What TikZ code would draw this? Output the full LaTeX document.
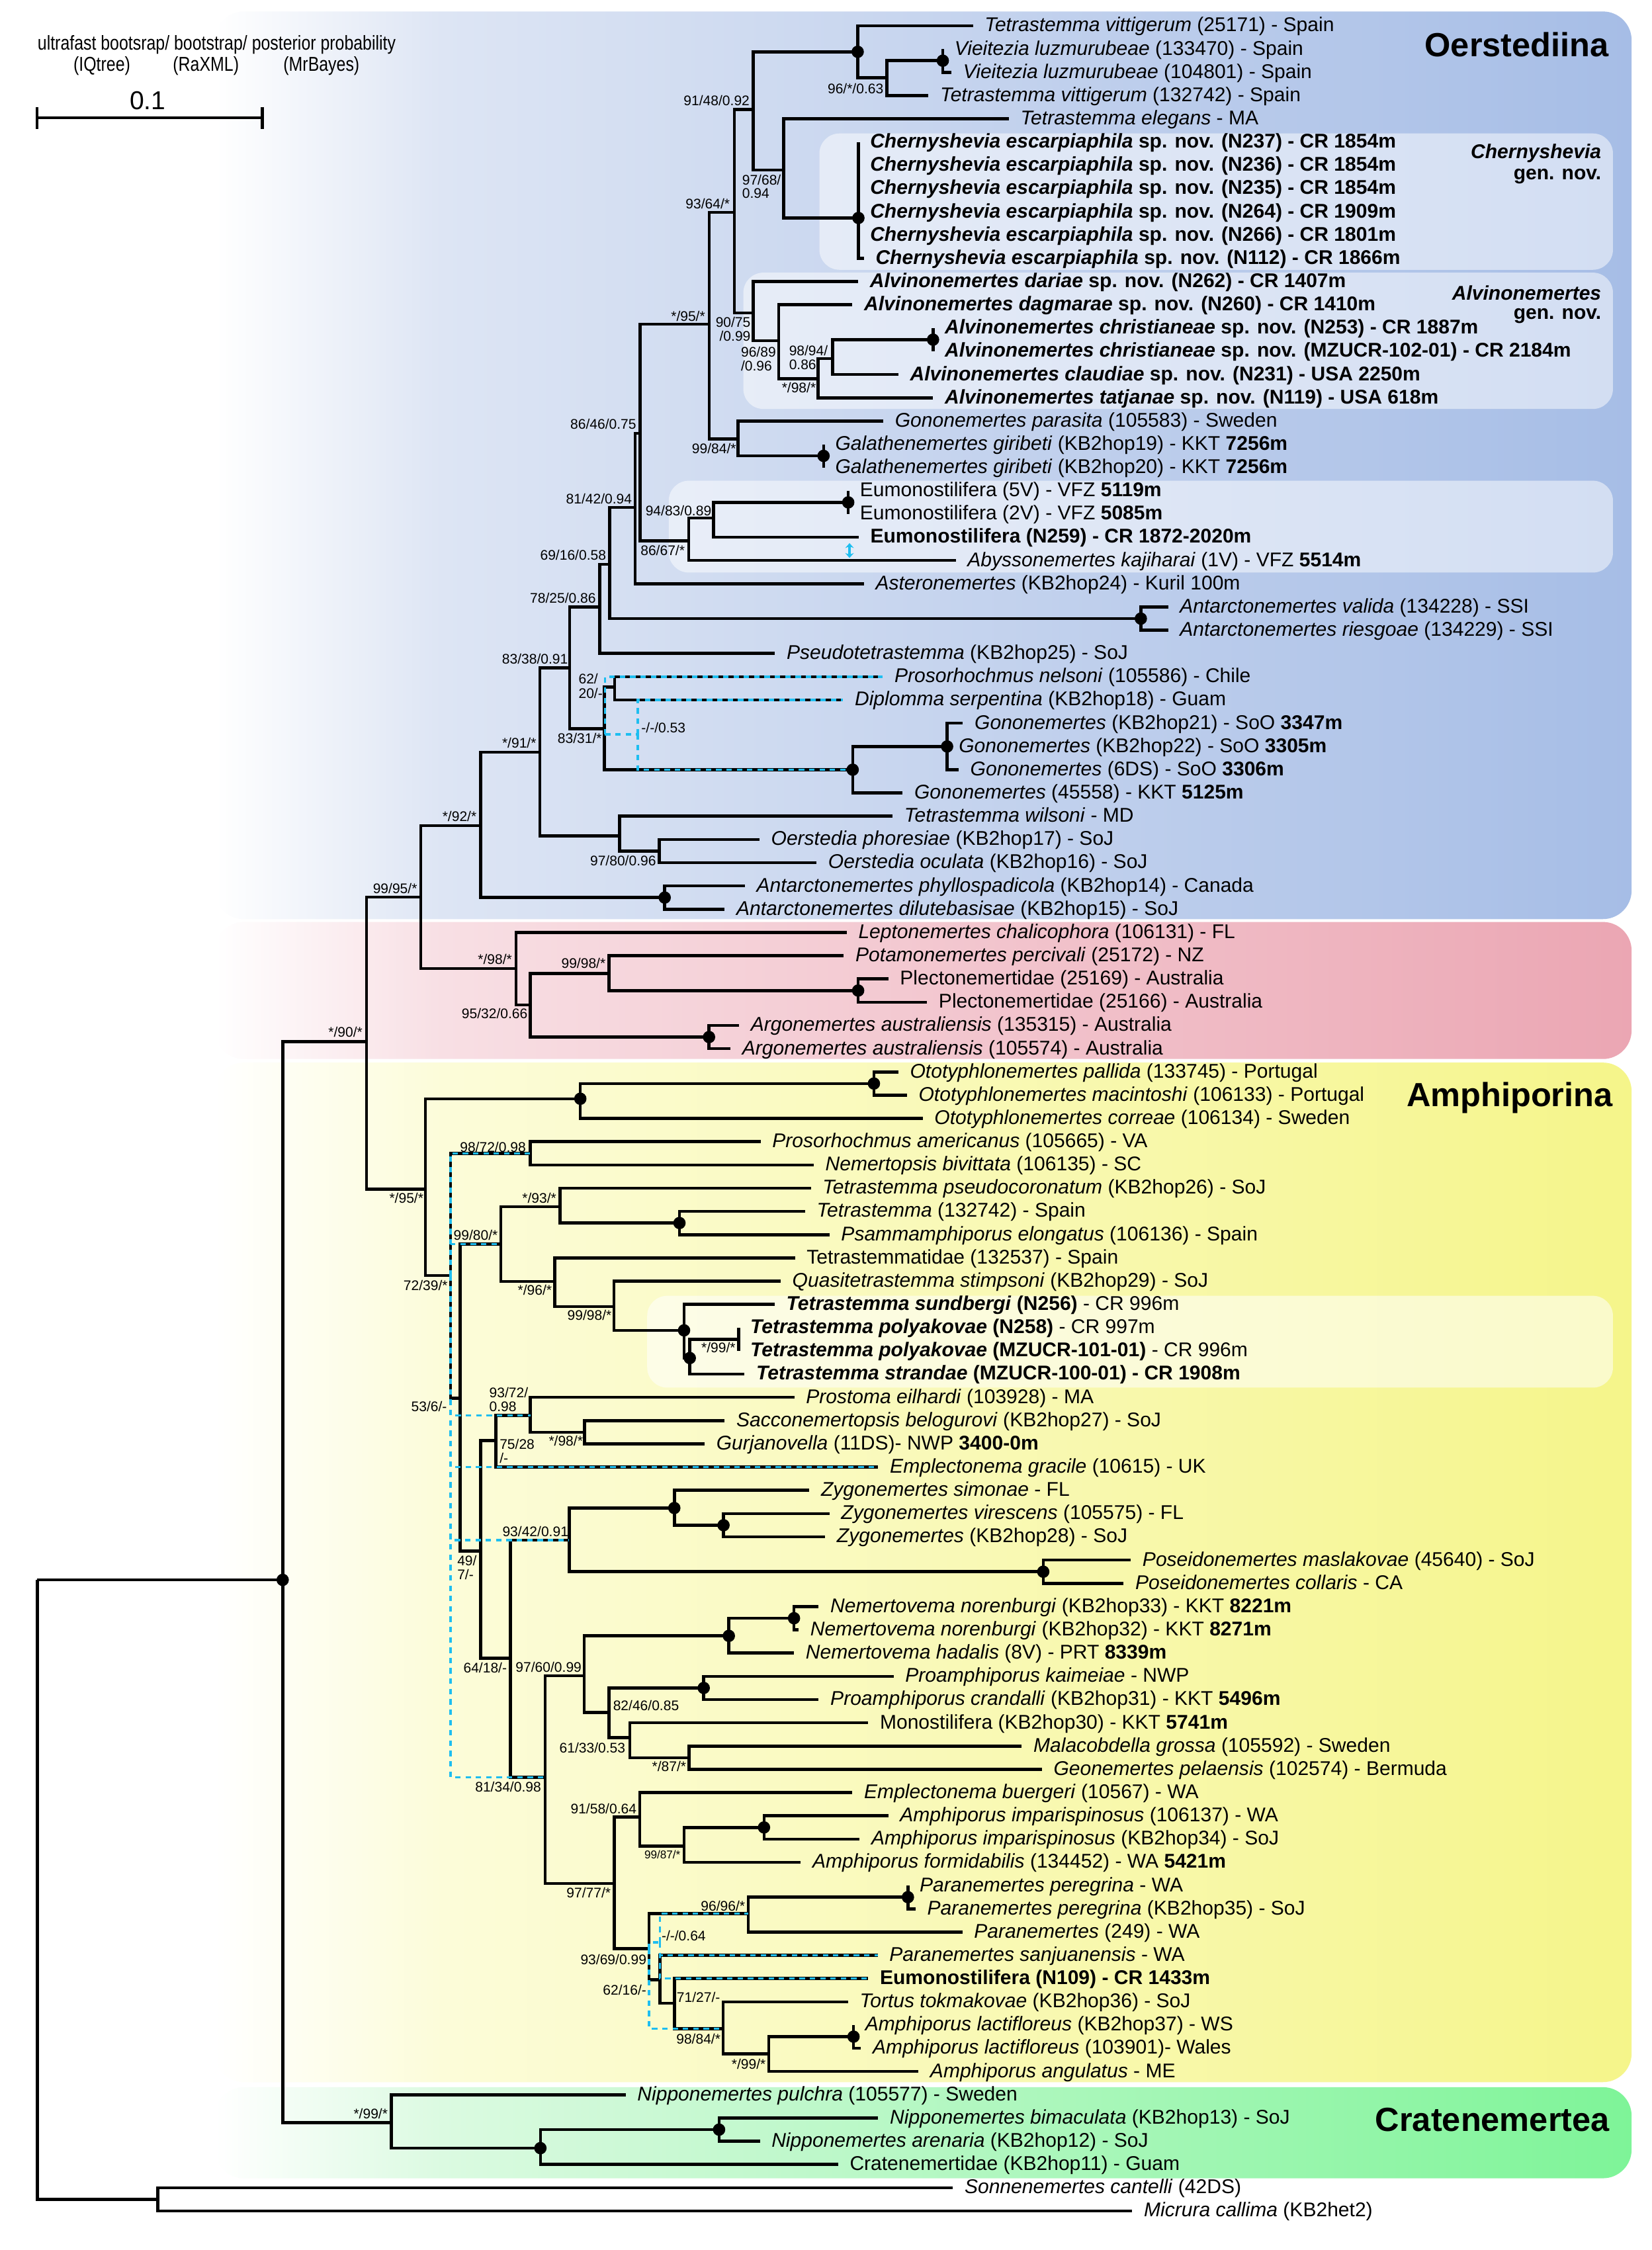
\documentclass[tikz,border=0pt]{standalone}
\usepackage{fontspec}
\setmainfont{Liberation Sans}
\usepackage{graphicx}
\usetikzlibrary{arrows.meta}
\definecolor{oerR}{HTML}{A6BDE6}
\definecolor{oerM}{HTML}{DDE5F4}
\definecolor{pnkR}{HTML}{EBA6B3}
\definecolor{pnkM}{HTML}{F8DFE4}
\definecolor{yelR}{HTML}{F5F58A}
\definecolor{yelM}{HTML}{FCFCD9}
\definecolor{grnR}{HTML}{7EF498}
\definecolor{grnM}{HTML}{DBFAE1}
\definecolor{cyanx}{HTML}{1EBEF0}
\pgfdeclarehorizontalshading{oersh}{100bp}{color(0bp)=(white); color(25bp)=(white); color(33bp)=(oerM); color(75bp)=(oerR); color(100bp)=(oerR)}
\pgfdeclarehorizontalshading{pnksh}{100bp}{color(0bp)=(white); color(25bp)=(white); color(33bp)=(pnkM); color(75bp)=(pnkR); color(100bp)=(pnkR)}
\pgfdeclarehorizontalshading{yelsh}{100bp}{color(0bp)=(white); color(25bp)=(white); color(33bp)=(yelM); color(75bp)=(yelR); color(100bp)=(yelR)}
\pgfdeclarehorizontalshading{grnsh}{100bp}{color(0bp)=(white); color(25bp)=(white); color(33bp)=(grnM); color(75bp)=(grnR); color(100bp)=(grnR)}
\newcommand\leaffont{\fontsize{13.85}{16}\selectfont}
\newcommand\labfont{\fontsize{9.7}{10}\selectfont}
\newcommand\smlabfont{\fontsize{7.9}{9}\selectfont}
\newcommand\grpfont{\fontsize{23.3}{28}\selectfont\bfseries}
\newcommand\lv[4]{\coordinate (t#1) at (#2,#3);\node[leaf] (l#1) at (t#1) {#4};}
\begin{document}
\begin{tikzpicture}[x=1pt,y=-1pt,
  br/.style={line width=2.1pt, draw=black},
  cy/.style={line width=1.6pt, draw=cyanx, dash pattern=on 3.8pt off 3.4pt},
  leaf/.style={anchor=west, inner sep=0pt, xshift=8pt, yshift=-0.6pt, font=\leaffont, text height=9.9pt, text depth=2.9pt},
  lab/.style={inner sep=0pt, font=\labfont},
  grp/.style={inner sep=0pt, font=\grpfont},
  sub/.style={inner sep=0pt, font=\leaffont, anchor=east}]
\fill[white] (0,0) rectangle (1151,1568);
\useasboundingbox (0,0) rectangle (1151,1568);
% ---------- bands
\shade[shading=oersh, rounded corners=20pt] (150,8) rectangle (1137,640.5);
\shade[shading=pnksh, rounded corners=20pt] (150,642.5) rectangle (1137,738);
\shade[shading=yelsh, rounded corners=20pt] (150,740.5) rectangle (1137,1451);
\shade[shading=grnsh, rounded corners=20pt] (150,1454.5) rectangle (1137,1518);
\fill[white, fill opacity=0.5, rounded corners=14pt] (571,93) rectangle (1124,188);
\fill[white, fill opacity=0.5, rounded corners=14pt] (518,190) rectangle (1124,285);
\fill[white, fill opacity=0.5, rounded corners=14pt] (466,335) rectangle (1124,399);
\fill[white, fill opacity=0.55, rounded corners=14pt] (451,903) rectangle (1124,967);
% ---------- legend
\node[inner sep=0pt] (lg1) at (151,31) {\scalebox{0.82}[1]{\fontsize{14}{16}\selectfont ultrafast bootsrap/ bootstrap/ posterior probability}};
\node[inner sep=0pt] (lg2) at (71,46) {\scalebox{0.82}[1]{\fontsize{14}{16}\selectfont (IQtree)}};
\node[inner sep=0pt] (lg3) at (143.5,46) {\scalebox{0.82}[1]{\fontsize{14}{16}\selectfont (RaXML)}};
\node[inner sep=0pt] (lg4) at (224,46) {\scalebox{0.82}[1]{\fontsize{14}{16}\selectfont (MrBayes)}};
\coordinate (sb1) at (25.8,82); \coordinate (sb2) at (182.7,82);
\coordinate (sb1a) at (25.8,74.5); \coordinate (sb1b) at (25.8,89.9);
\coordinate (sb2a) at (182.7,74.5); \coordinate (sb2b) at (182.7,89.9);
\draw[line width=2.1pt] (sb1) -- (sb2);
\draw[line width=2.1pt] (sb1a) -- (sb1b);
\draw[line width=2.1pt] (sb2a) -- (sb2b);
\node[inner sep=0pt, font=\fontsize{18}{20}\selectfont] (sbl) at (103,70) {0.1};
% ---------- group labels
\node[grp] (g1) at (1057,31) {Oerstediina};
\node[grp] (g2) at (1052,765) {Amphiporina};
\node[grp] (g3) at (1040,1477) {Cratenemertea};
\node[sub] (g4) at (1116,107) {\textbf{\textit{Chernyshevia}}};
\node[sub] (g5) at (1116,123) {\textbf{gen. nov.}};
\node[sub] (g6) at (1116,204) {\textbf{\textit{Alvinonemertes}}};
\node[sub] (g7) at (1116,220) {\textbf{gen. nov.}};
% ---------- internal nodes
\coordinate (R) at (26,1101);
\coordinate (OG) at (110,1532.7);
\coordinate (IN) at (197,1101);
\coordinate (n90) at (255.4,725.9);
\coordinate (n9995) at (293.3,625.2);
\coordinate (n92) at (335,575.4);
\coordinate (nAP) at (463.2,625.5);
\coordinate (n91) at (376.3,524.2);
\coordinate (nWil) at (431.7,582.5);
\coordinate (n9780) at (459.4,593.1);
\coordinate (n8338) at (397,465.3);
\coordinate (n8331) at (421.2,507.8);
\coordinate (n6220) at (428.3,478.7);
\coordinate (nGo) at (594.2,536.4);
\coordinate (nGi) at (660,520.2);
\coordinate (n7825) at (417.8,423);
\coordinate (n6916) at (424.8,393.3);
\coordinate (nAV) at (795,431.1);
\coordinate (n8142) at (442.5,353.7);
\coordinate (n8646) at (446,302);
\coordinate (n8667) at (480,377);
\coordinate (n9483) at (497.1,361);
\coordinate (nEu) at (591.1,350.1);
\coordinate (n95) at (494.2,226);
\coordinate (n9984) at (514.4,305.8);
\coordinate (nGa) at (573.9,317.7);
\coordinate (n9364) at (511.8,147.9);
\coordinate (n9148) at (525,76.4);
\coordinate (nA1) at (597.7,36.1);
\coordinate (n96) at (618,54.1);
\coordinate (nVi) at (657,42.3);
\coordinate (n9768) at (546.2,118.4);
\coordinate (nCh) at (598.2,151.9);
\coordinate (n9075) at (525,218.1);
\coordinate (n9689) at (542.6,237.5);
\coordinate (n98a) at (570,264);
\coordinate (n9894) at (580.2,249.8);
\coordinate (nChr) at (650.2,236.7);
\coordinate (nPk) at (359.7,674.9);
\coordinate (n9532) at (369.4,700.4);
\coordinate (n9998) at (424.5,678.5);
\coordinate (nPl) at (598,690.3);
\coordinate (nAr) at (494.1,722.7);
\coordinate (nAm) at (296.5,828.7);
\coordinate (nOt) at (404.4,765.7);
\coordinate (nOi) at (609,755.1);
\coordinate (n7239) at (314,888.9);
\coordinate (n9872) at (369.6,803.7);
\coordinate (n536) at (320.6,974.3);
\coordinate (n9980) at (349,866.9);
\coordinate (n93b) at (390.2,841);
\coordinate (nPs) at (473.5,852.3);
\coordinate (n96b) at (386.6,893);
\coordinate (n9998b) at (427.8,910.6);
\coordinate (nSu) at (476.7,927.1);
\coordinate (nPo) at (480.7,946.4);
\coordinate (nPy) at (514.7,933.3);
\coordinate (n497) at (335,1080.9);
\coordinate (n7528) at (345.5,1003.9);
\coordinate (n9372) at (369.6,986.3);
\coordinate (n98c) at (407.3,998.1);
\coordinate (n6418) at (355.6,1155.7);
\coordinate (n9342) at (396.7,1073.2);
\coordinate (nZy) at (469.9,1050.9);
\coordinate (nZi) at (504.2,1062.9);
\coordinate (nPd) at (727,1095.3);
\coordinate (n8134) at (379.9,1238.5);
\coordinate (n9760) at (407,1167.7);
\coordinate (nNe) at (507.9,1140);
\coordinate (nNi) at (553.3,1127.7);
\coordinate (n8246) at (424.5,1193.4);
\coordinate (nPa) at (490.4,1176.3);
\coordinate (n6133) at (438.9,1211);
\coordinate (n87) at (480.1,1224.9);
\coordinate (n9777) at (428,1312.5);
\coordinate (n9158) at (445.9,1266.3);
\coordinate (n9987) at (476.8,1286.5);
\coordinate (nIm) at (532.4,1273.5);
\coordinate (n9369) at (452.3,1358.1);
\coordinate (n9696) at (521.4,1333.5);
\coordinate (nPr) at (632.7,1322.1);
\coordinate (n6216) at (459.8,1379.6);
\coordinate (n7127) at (470.1,1396);
\coordinate (n9884) at (504,1413.7);
\coordinate (n99c) at (535.7,1431.4);
\coordinate (nLa) at (594.8,1419.3);
\coordinate (nCt) at (272.7,1479.3);
\coordinate (nCi) at (376.6,1497);
\coordinate (nNp) at (501.1,1484.1);
% ---------- leaves
\lv{1}{678}{18}{\textit{Tetrastemma vittigerum} (25171) - Spain}
\lv{2}{657}{34.2}{\textit{Vieitezia luzmurubeae} (133470) - Spain}
\lv{3}{663}{50.4}{\textit{Vieitezia luzmurubeae} (104801) - Spain}
\lv{4}{647}{66.6}{\textit{Tetrastemma vittigerum} (132742) - Spain}
\lv{5}{703}{82.8}{\textit{Tetrastemma elegans} - MA}
\lv{6}{598.2}{99}{\textbf{\textit{Chernyshevia escarpiaphila} sp. nov. (N237) - CR 1854m}}
\lv{7}{598.2}{115.2}{\textbf{\textit{Chernyshevia escarpiaphila} sp. nov. (N236) - CR 1854m}}
\lv{8}{598.2}{131.4}{\textbf{\textit{Chernyshevia escarpiaphila} sp. nov. (N235) - CR 1854m}}
\lv{9}{598.2}{147.6}{\textbf{\textit{Chernyshevia escarpiaphila} sp. nov. (N264) - CR 1909m}}
\lv{10}{598.2}{163.8}{\textbf{\textit{Chernyshevia escarpiaphila} sp. nov. (N266) - CR 1801m}}
\lv{11}{602}{180}{\textbf{\textit{Chernyshevia escarpiaphila} sp. nov. (N112) - CR 1866m}}
\lv{12}{598}{196.2}{\textbf{\textit{Alvinonemertes dariae} sp. nov. (N262) - CR 1407m}}
\lv{13}{594}{212.4}{\textbf{\textit{Alvinonemertes dagmarae} sp. nov. (N260) - CR 1410m}}
\lv{14}{650.2}{228.6}{\textbf{\textit{Alvinonemertes christianeae} sp. nov. (N253) - CR 1887m}}
\lv{15}{650.2}{244.8}{\textbf{\textit{Alvinonemertes christianeae} sp. nov. (MZUCR-102-01) - CR 2184m}}
\lv{16}{626}{261}{\textbf{\textit{Alvinonemertes claudiae} sp. nov. (N231) - USA 2250m}}
\lv{17}{650.2}{277.2}{\textbf{\textit{Alvinonemertes tatjanae} sp. nov. (N119) - USA 618m}}
\lv{18}{615.5}{293.4}{\textit{Gononemertes parasita} (105583) - Sweden}
\lv{19}{573.9}{309.6}{\textit{Galathenemertes giribeti} (KB2hop19) - KKT \textbf{7256m}}
\lv{20}{573.9}{325.8}{\textit{Galathenemertes giribeti} (KB2hop20) - KKT \textbf{7256m}}
\lv{21}{591.1}{342}{Eumonostilifera (5V) - VFZ \textbf{5119m}}
\lv{22}{591.1}{358.2}{Eumonostilifera (2V) - VFZ \textbf{5085m}}
\lv{23}{598.3}{374.4}{\textbf{Eumonostilifera (N259) - CR 1872-2020m}}
\lv{24}{666}{390.6}{\textit{Abyssonemertes kajiharai} (1V) - VFZ \textbf{5514m}}
\lv{25}{602}{406.8}{\textit{Asteronemertes} (KB2hop24) - Kuril 100m}
\lv{26}{814}{423}{\textit{Antarctonemertes valida} (134228) - SSI}
\lv{27}{814}{439.2}{\textit{Antarctonemertes riesgoae} (134229) - SSI}
\lv{28}{540}{455.4}{\textit{Pseudotetrastemma} (KB2hop25) - SoJ}
\lv{29}{615.2}{471.6}{\textit{Prosorhochmus nelsoni} (105586) - Chile}
\lv{30}{587.5}{487.8}{\textit{Diplomma serpentina} (KB2hop18) - Guam}
\lv{31}{671}{504}{\textit{Gononemertes} (KB2hop21) - SoO \textbf{3347m}}
\lv{32}{660}{520.2}{\textit{Gononemertes} (KB2hop22) - SoO \textbf{3305m}}
\lv{33}{668}{536.4}{\textit{Gononemertes} (6DS) - SoO \textbf{3306m}}
\lv{34}{629}{552.6}{\textit{Gononemertes} (45558) - KKT \textbf{5125m}}
\lv{35}{622}{568.8}{\textit{Tetrastemma wilsoni} - MD}
\lv{36}{529.2}{585}{\textit{Oerstedia phoresiae} (KB2hop17) - SoJ}
\lv{37}{569}{601.2}{\textit{Oerstedia oculata} (KB2hop16) - SoJ}
\lv{38}{519}{617.4}{\textit{Antarctonemertes phyllospadicola} (KB2hop14) - Canada}
\lv{39}{505}{633.6}{\textit{Antarctonemertes dilutebasisae} (KB2hop15) - SoJ}
\lv{40}{590}{649.8}{\textit{Leptonemertes chalicophora} (106131) - FL}
\lv{41}{588}{666}{\textit{Potamonemertes percivali} (25172) - NZ}
\lv{42}{619}{682.2}{Plectonemertidae (25169) - Australia}
\lv{43}{646}{698.4}{Plectonemertidae (25166) - Australia}
\lv{44}{515}{714.6}{\textit{Argonemertes australiensis} (135315) - Australia}
\lv{45}{509}{730.8}{\textit{Argonemertes australiensis} (105574) - Australia}
\lv{46}{626}{747}{\textit{Ototyphlonemertes pallida} (133745) - Portugal}
\lv{47}{632}{763.2}{\textit{Ototyphlonemertes macintoshi} (106133) - Portugal}
\lv{48}{643}{779.4}{\textit{Ototyphlonemertes correae} (106134) - Sweden}
\lv{49}{530}{795.6}{\textit{Prosorhochmus americanus} (105665) - VA}
\lv{50}{567}{811.8}{\textit{Nemertopsis bivittata} (106135) - SC}
\lv{51}{565}{828}{\textit{Tetrastemma pseudocoronatum} (KB2hop26) - SoJ}
\lv{52}{561}{844.2}{\textit{Tetrastemma} (132742) - Spain}
\lv{53}{578}{860.4}{\textit{Psammamphiporus elongatus} (106136) - Spain}
\lv{54}{554}{876.6}{Tetrastemmatidae (132537) - Spain}
\lv{55}{544}{892.8}{\textit{Quasitetrastemma stimpsoni} (KB2hop29) - SoJ}
\lv{56}{539.8}{909}{\textbf{\textit{Tetrastemma sundbergi} (N256)} - CR 996m}
\lv{57}{514.7}{925.2}{\textbf{\textit{Tetrastemma polyakovae} (N258)} - CR 997m}
\lv{58}{514.7}{941.4}{\textbf{\textit{Tetrastemma polyakovae} (MZUCR-101-01)} - CR 996m}
\lv{59}{518.8}{957.6}{\textbf{\textit{Tetrastemma strandae} (MZUCR-100-01) - CR 1908m}}
\lv{60}{553.5}{973.8}{\textit{Prostoma eilhardi} (103928) - MA}
\lv{61}{505}{990}{\textit{Sacconemertopsis belogurovi} (KB2hop27) - SoJ}
\lv{62}{491}{1006.2}{\textit{Gurjanovella} (11DS)- NWP \textbf{3400-0m}}
\lv{63}{612}{1022.4}{\textit{Emplectonema gracile} (10615) - UK}
\lv{64}{564}{1038.6}{\textit{Zygonemertes simonae} - FL}
\lv{65}{578}{1054.8}{\textit{Zygonemertes virescens} (105575) - FL}
\lv{66}{575}{1071}{\textit{Zygonemertes} (KB2hop28) - SoJ}
\lv{67}{788}{1087.2}{\textit{Poseidonemertes maslakovae} (45640) - SoJ}
\lv{68}{783}{1103.4}{\textit{Poseidonemertes collaris} - CA}
\lv{69}{570.5}{1119.6}{\textit{Nemertovema norenburgi} (KB2hop33) - KKT \textbf{8221m}}
\lv{70}{556.5}{1135.8}{\textit{Nemertovema norenburgi} (KB2hop32) - KKT \textbf{8271m}}
\lv{71}{553.3}{1152}{\textit{Nemertovema hadalis} (8V) - PRT \textbf{8339m}}
\lv{72}{622.7}{1168.2}{\textit{Proamphiporus kaimeiae} - NWP}
\lv{73}{570.5}{1184.4}{\textit{Proamphiporus crandalli} (KB2hop31) - KKT \textbf{5496m}}
\lv{74}{605}{1200.6}{Monostilifera (KB2hop30) - KKT \textbf{5741m}}
\lv{75}{712}{1216.8}{\textit{Malacobdella grossa} (105592) - Sweden}
\lv{76}{726}{1233}{\textit{Geonemertes pelaensis} (102574) - Bermuda}
\lv{77}{594}{1249.2}{\textit{Emplectonema buergeri} (10567) - WA}
\lv{78}{619}{1265.4}{\textit{Amphiporus imparispinosus} (106137) - WA}
\lv{79}{599}{1281.6}{\textit{Amphiporus imparispinosus} (KB2hop34) - SoJ}
\lv{80}{558}{1297.8}{\textit{Amphiporus formidabilis} (134452) - WA \textbf{5421m}}
\lv{81}{632.7}{1314}{\textit{Paranemertes peregrina} - WA}
\lv{82}{638}{1330.2}{\textit{Paranemertes peregrina} (KB2hop35) - SoJ}
\lv{83}{670.6}{1346.4}{\textit{Paranemertes} (249) - WA}
\lv{84}{611.6}{1362.6}{\textit{Paranemertes sanjuanensis} - WA}
\lv{85}{605}{1378.8}{\textbf{Eumonostilifera (N109) - CR 1433m}}
\lv{86}{591}{1395}{\textit{Tortus tokmakovae} (KB2hop36) - SoJ}
\lv{87}{594.8}{1411.2}{\textit{Amphiporus lactifloreus} (KB2hop37) - WS}
\lv{88}{600}{1427.4}{\textit{Amphiporus lactifloreus} (103901)- Wales}
\lv{89}{640}{1443.6}{\textit{Amphiporus angulatus} - ME}
\lv{90}{436}{1459.8}{\textit{Nipponemertes pulchra} (105577) - Sweden}
\lv{91}{612}{1476}{\textit{Nipponemertes bimaculata} (KB2hop13) - SoJ}
\lv{92}{529.5}{1492.2}{\textit{Nipponemertes arenaria} (KB2hop12) - SoJ}
\lv{93}{584}{1508.4}{Cratenemertidae (KB2hop11) - Guam}
\lv{94}{664}{1524.6}{\textit{Sonnenemertes cantelli} (42DS)}
\lv{95}{789}{1540.8}{\textit{Micrura callima} (KB2het2)}
% ---------- branches
\foreach \p/\c in {R/IN,R/OG,OG/t94,OG/t95,IN/n90,IN/nCt,
 n90/n9995,n90/nAm,n9995/n92,n9995/nPk,n92/n91,n92/nAP,nAP/t38,nAP/t39,
 n91/n8338,n91/nWil,nWil/t35,nWil/n9780,n9780/t36,n9780/t37,
 n8338/n7825,n8338/n8331,n8331/n6220,n8331/nGo,n6220/t29,n6220/t30,
 nGo/nGi,nGo/t34,nGi/t31,nGi/t32,nGi/t33,
 n7825/n6916,n7825/t28,n6916/n8142,n6916/nAV,nAV/t26,nAV/t27,
 n8142/n8646,n8142/t25,n8646/n95,n8646/n8667,n8667/n9483,n8667/t24,
 n9483/nEu,n9483/t23,nEu/t21,nEu/t22,
 n95/n9364,n95/n9984,n9984/t18,n9984/nGa,nGa/t19,nGa/t20,
 n9364/n9148,n9364/n9075,n9148/nA1,n9148/n9768,nA1/t1,nA1/n96,
 n96/nVi,n96/t4,nVi/t2,nVi/t3,n9768/t5,n9768/nCh,
 nCh/t6,nCh/t7,nCh/t8,nCh/t9,nCh/t10,nCh/t11,
 n9075/t12,n9075/n9689,n9689/t13,n9689/n98a,n98a/n9894,n98a/t17,
 n9894/nChr,n9894/t16,nChr/t14,nChr/t15,
 nPk/t40,nPk/n9532,n9532/n9998,n9532/nAr,n9998/t41,n9998/nPl,
 nPl/t42,nPl/t43,nAr/t44,nAr/t45,
 nAm/nOt,nAm/n7239,nOt/nOi,nOt/t48,nOi/t46,nOi/t47,
 n7239/n9872,n7239/n536,n9872/t49,n9872/t50,
 n536/n9980,n536/n497,n9980/n93b,n9980/n96b,
 n93b/t51,n93b/nPs,nPs/t52,nPs/t53,
 n96b/t54,n96b/n9998b,n9998b/t55,n9998b/nSu,
 nSu/t56,nSu/nPo,nPo/nPy,nPo/t59,nPy/t57,nPy/t58,
 n497/n7528,n497/n6418,n7528/n9372,n7528/t63,
 n9372/t60,n9372/n98c,n98c/t61,n98c/t62,
 n6418/n9342,n6418/n8134,n9342/nZy,n9342/nPd,
 nZy/t64,nZy/nZi,nZi/t65,nZi/t66,nPd/t67,nPd/t68,
 n8134/n9760,n8134/n9777,n9760/nNe,n9760/n8246,
 nNe/nNi,nNe/t71,nNi/t69,nNi/t70,
 n8246/nPa,n8246/n6133,nPa/t72,nPa/t73,
 n6133/t74,n6133/n87,n87/t75,n87/t76,
 n9777/n9158,n9777/n9369,n9158/t77,n9158/n9987,
 n9987/nIm,n9987/t80,nIm/t78,nIm/t79,
 n9369/n9696,n9369/n6216,n9696/nPr,n9696/t83,nPr/t81,nPr/t82,
 n6216/t84,n6216/n7127,n7127/t85,n7127/n9884,
 n9884/t86,n9884/n99c,n99c/nLa,n99c/t89,nLa/t87,nLa/t88,
 nCt/t90,nCt/nCi,nCi/nNp,nCi/t93,nNp/t91,nNp/t92}
 \draw[br] (\p) |- (\c);
% ---------- alternative (Bayesian) topology, cyan dashed
\coordinate (aO1) at (421.6,511.7);
\coordinate (aO2) at (444.5,511.7);
\draw[cy] (aO1) |- (t29);
\draw[cy] (aO1) -- (aO2);
\draw[cy] (aO2) |- (t30);
\draw[cy] (aO2) |- (nGo);
\coordinate (aA) at (314,888.9);
\foreach \c in {n9872,n9980,n9372,t63,n9342,n8134}
 \draw[cy] (aA) |- (\c);
\coordinate (aL1) at (459.8,1353.7);
\coordinate (aL2) at (452.3,1358.1);
\foreach \c in {n9696,t84,t85}
 \draw[cy] (aL1) |- (\c);
\draw[cy] (aL2) |- (aL1);
\draw[cy] (aL2) |- (n9884);
% double arrow
\coordinate (ar1) at (592,378.5);
\coordinate (ar2) at (592,388.8);
\draw[cyanx, line width=1.5pt, {Stealth[length=3.4pt,width=6pt]}-{Stealth[length=3.4pt,width=6pt]}] (ar1) -- (ar2);
% ---------- dots
\foreach \d in {IN,nAP,nGo,nGi,nAV,nEu,nGa,nA1,nVi,nCh,nChr,nPl,nAr,nOt,nOi,nPs,nSu,nPo,nZy,nZi,nPd,nNe,nNi,nPa,nIm,nPr,nLa,nCi,nNp}
 \fill (\d) circle[radius=4.3pt];
% ---------- support labels
\node[lab] (b1) at (596.2,61.9) {96/*/0.63};
\node[lab] (b2) at (499.4,69.9) {91/48/0.92};
\node[lab,anchor=west] (b3) at (517,125.5) {97/68/};
\node[lab,anchor=west] (b4) at (517,134.6) {0.94};
\node[lab] (b5) at (493.2,142.2) {93/64/*};
\node[lab] (b6) at (479.5,220.4) {*/95/*};
\node[lab,anchor=east] (b7) at (523.2,224.6) {90/75};
\node[lab,anchor=east] (b8) at (523.2,234.2) {/0.99};
\node[lab,anchor=west] (b9) at (516.2,245.1) {96/89};
\node[lab,anchor=west] (b10) at (516.2,255.1) {/0.96};
\node[lab,anchor=west] (b11) at (549.7,244.5) {98/94/};
\node[lab,anchor=west] (b12) at (549.7,254.3) {0.86};
\node[lab] (b13) at (556.7,270.1) {*/98/*};
\node[lab] (b14) at (420.4,295.7) {86/46/0.75};
\node[lab] (b15) at (497.6,312.5) {99/84/*};
\node[lab] (b16) at (417.4,347.7) {81/42/0.94};
\node[lab] (b17) at (472.8,355.7) {94/83/0.89};
\node[lab] (b18) at (461.8,383.4) {86/67/*};
\node[lab] (b19) at (399.4,386.9) {69/16/0.58};
\node[lab] (b20) at (392.3,416.6) {78/25/0.86};
\node[lab] (b21) at (372.8,459.1) {83/38/0.91};
\node[lab,anchor=west] (b22) at (403,473) {62/};
\node[lab,anchor=west] (b23) at (403,483.2) {20/-};
\node[lab] (b24) at (404,514.4) {83/31/*};
\node[lab] (b25) at (462.3,507.3) {-/-/0.53};
\node[lab] (b26) at (361.8,517.6) {*/91/*};
\node[lab] (b27) at (320.2,568.7) {*/92/*};
\node[lab] (b28) at (434.2,599.7) {97/80/0.96};
\node[lab] (b29) at (275.3,619.1) {99/95/*};
\node[lab] (b30) at (344.9,668.3) {*/98/*};
\node[lab] (b31) at (406.6,671.4) {99/98/*};
\node[lab] (b32) at (344.7,706.5) {95/32/0.66};
\node[lab] (b33) at (240.7,719.4) {*/90/*};
\node[lab] (b34) at (343.5,799.3) {98/72/0.98};
\node[lab] (b35) at (283.2,834.9) {*/95/*};
\node[lab] (b36) at (375.8,834.9) {*/93/*};
\node[lab] (b37) at (331.5,860.7) {99/80/*};
\node[lab] (b38) at (296.6,895.6) {72/39/*};
\node[lab] (b39) at (372.7,899.1) {*/96/*};
\node[lab] (b40) at (410.8,916.7) {99/98/*};
\node[lab] (b41) at (500.6,939) {*/99/*};
\node[lab,anchor=west] (b42) at (340.8,970.5) {93/72/};
\node[lab,anchor=west] (b43) at (340.8,980.1) {0.98};
\node[lab] (b44) at (299,980.1) {53/6/-};
\node[lab] (b45) at (394.3,1003.9) {*/98/*};
\node[lab,anchor=west] (b46) at (348,1006.6) {75/28};
\node[lab,anchor=west] (b47) at (348,1016.2) {/-};
\node[lab] (b48) at (373.1,1067.1) {93/42/0.91};
\node[lab,anchor=west] (b49) at (318.5,1087.6) {49/};
\node[lab,anchor=west] (b50) at (318.5,1097.2) {7/-};
\node[lab] (b51) at (338.1,1162.1) {64/18/-};
\node[lab] (b52) at (382.3,1161.6) {97/60/0.99};
\node[lab] (b53) at (450.2,1188.6) {82/46/0.85};
\node[lab] (b54) at (412.8,1218.2) {61/33/0.53};
\node[lab] (b55) at (466.3,1231) {*/87/*};
\node[lab] (b56) at (354.1,1245.4) {81/34/0.98};
\node[lab] (b57) at (420.6,1260.6) {91/58/0.64};
\node[lab,font=\smlabfont] (b58) at (461.6,1292.3) {99/87/*};
\node[lab] (b59) at (410.2,1319.2) {97/77/*};
\node[lab] (b60) at (503.8,1328.3) {96/96/*};
\node[lab] (b61) at (476.4,1349) {-/-/0.64};
\node[lab] (b62) at (427.5,1365.4) {93/69/0.99};
\node[lab] (b63) at (435.3,1386.6) {62/16/-};
\node[lab] (b64) at (486.7,1391.7) {71/27/-};
\node[lab] (b65) at (486.7,1421) {98/84/*};
\node[lab] (b66) at (521.7,1438.5) {*/99/*};
\node[lab] (b67) at (258.3,1473.1) {*/99/*};
\end{tikzpicture}
\end{document}
